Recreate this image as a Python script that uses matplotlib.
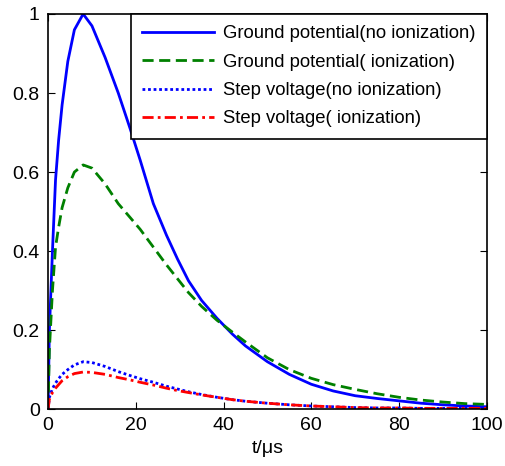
import numpy as np
import matplotlib
matplotlib.use("Agg")
import matplotlib.pyplot as plt

plt.rcParams['font.family'] = ['Liberation Sans', 'DejaVu Sans']

# time axis (us) and values
t = [0, 0.3, 1.0, 1.7, 2.4, 3.2, 4.5, 6, 8, 10, 13, 16, 18.7, 21, 24, 27, 29.5,
     32, 35, 38.5, 42, 45, 50, 55, 60, 65, 70, 75, 80, 85, 90, 95, 100]
gp_no_ion = [0, 0.2, 0.4, 0.58, 0.68, 0.77, 0.88, 0.96, 1.0, 0.97, 0.89, 0.8, 0.71,
             0.63, 0.52, 0.44, 0.38, 0.325, 0.275, 0.23, 0.19, 0.16, 0.12, 0.088,
             0.063, 0.046, 0.034, 0.027, 0.021, 0.015, 0.011, 0.008, 0.006]
gp_ion = [0, 0.15, 0.3, 0.41, 0.46, 0.51, 0.56, 0.6, 0.618, 0.61, 0.57, 0.52, 0.485,
          0.455, 0.41, 0.365, 0.33, 0.295, 0.26, 0.225, 0.195, 0.17, 0.13, 0.1, 0.078,
          0.062, 0.05, 0.039, 0.03, 0.023, 0.018, 0.014, 0.012]
sv_no_ion = [0, 0.03, 0.052, 0.066, 0.077, 0.088, 0.1, 0.112, 0.12, 0.118, 0.108,
             0.095, 0.085, 0.077, 0.068, 0.058, 0.051, 0.044, 0.037, 0.03, 0.024, 0.02,
             0.015, 0.011, 0.008, 0.006, 0.004, 0.003, 0.003, 0.002, 0.002, 0.002, 0.002]
sv_ion = [0, 0.025, 0.042, 0.053, 0.062, 0.072, 0.082, 0.09, 0.094, 0.093, 0.088,
          0.08, 0.074, 0.068, 0.061, 0.053, 0.047, 0.042, 0.036, 0.03, 0.024, 0.02,
          0.015, 0.011, 0.008, 0.006, 0.004, 0.003, 0.003, 0.002, 0.002, 0.002, 0.002]

labels = ['Ground potential(no ionization)', 'Ground potential( ionization)',
          'Step voltage(no ionization)', 'Step voltage( ionization)']

fig = plt.figure(figsize=(5.06, 4.66), dpi=100)
ax = fig.add_axes([0.095, 0.122, 0.867, 0.848])

ax.plot(t, gp_no_ion, color='#0000ff', linestyle='-', lw=2, label=labels[0])
ax.plot(t, gp_ion, color='#008000', linestyle=(0, (4, 2)), lw=2, label=labels[1])
ax.plot(t, sv_no_ion, color='#0000ff', linestyle=(0, (1, 1)), lw=2, label=labels[2])
ax.plot(t, sv_ion, color='#ff0000', linestyle=(0, (4, 1.5, 1, 1.5)), lw=2, label=labels[3])

ax.set_xlim(0, 100)
ax.set_ylim(0, 1)
ax.set_xticks([0, 20, 40, 60, 80, 100])
ax.set_yticks([0, 0.2, 0.4, 0.6, 0.8, 1])
ax.set_yticklabels(['0', '0.2', '0.4', '0.6', '0.8', '1'])
ax.tick_params(direction='in', top=True, right=True, labelsize=14, length=5, pad=6)
for s in ax.spines.values():
    s.set_linewidth(1.2)
ax.set_xlabel('t/\u03bcs', fontsize=14, labelpad=4)

leg = ax.legend(loc='upper right', borderaxespad=0, fontsize=13.3, handlelength=3.9,
                handletextpad=0.5, borderpad=0.6, fancybox=False, framealpha=1,
                edgecolor='black', labelspacing=0.62)
leg.get_frame().set_linewidth(1.2)

fig.savefig('out.png', dpi=100)
